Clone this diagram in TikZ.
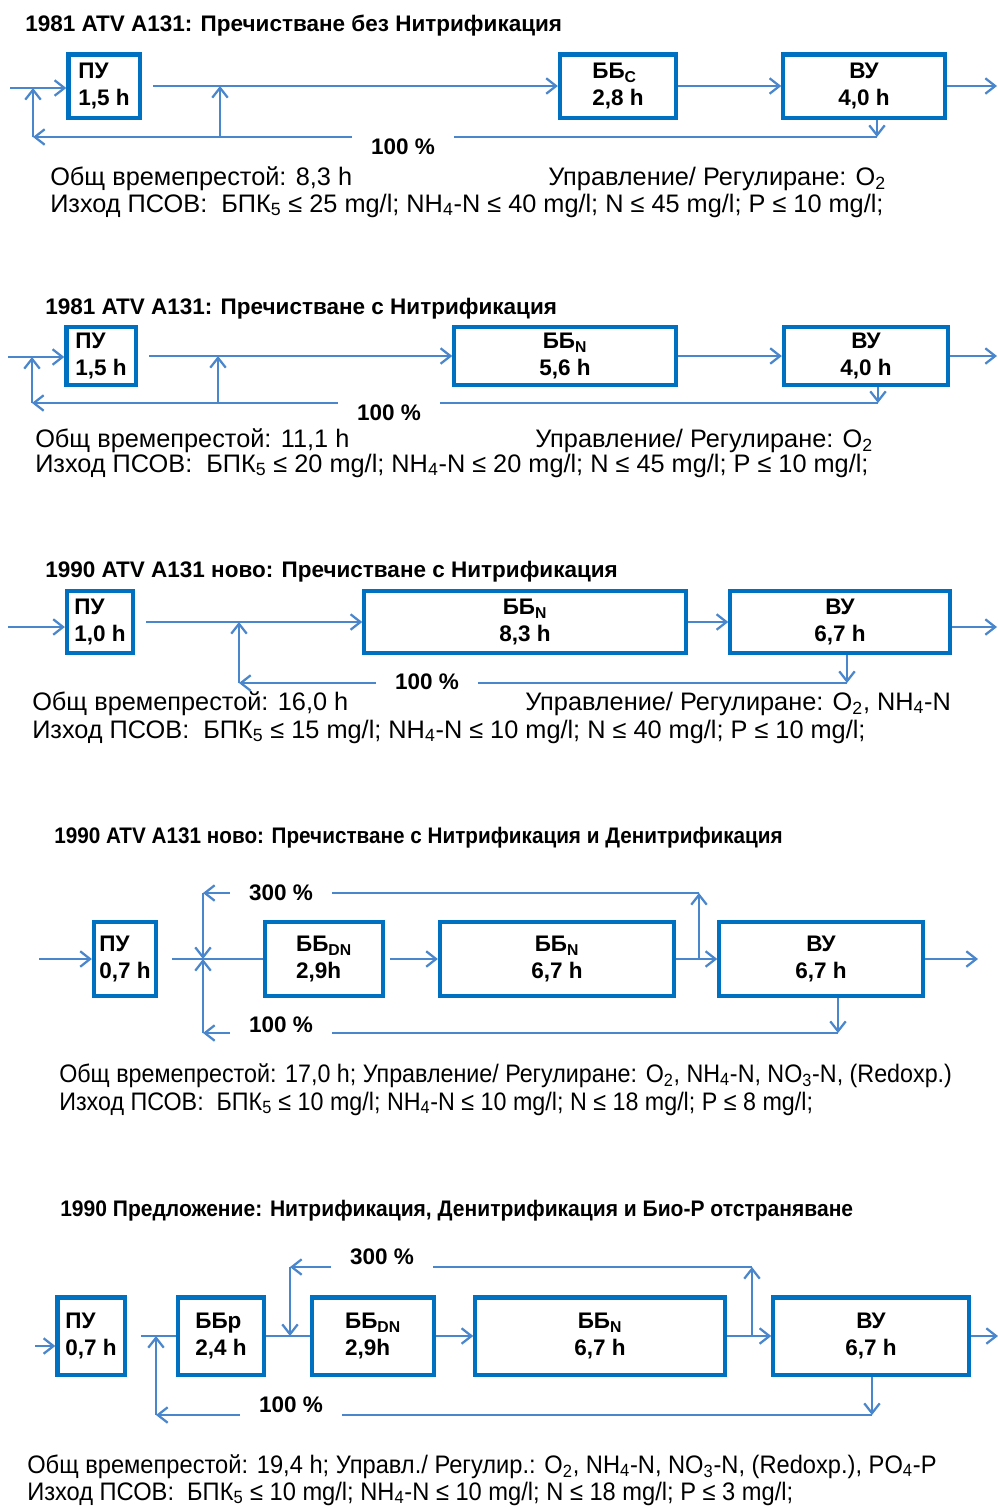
\documentclass[tikz,border=0pt]{standalone}
\usepackage{fontspec}
\setmainfont{Liberation Sans}
\newfontfamily\narrowfont[FakeStretch=0.92]{Liberation Sans}
\newfontfamily\semifont[FakeStretch=0.935]{Liberation Sans}
\usetikzlibrary{arrows.meta}
\definecolor{boxblue}{RGB}{0,112,192}
\definecolor{flowblue}{RGB}{74,134,204}

\begin{document}
\begin{tikzpicture}[x=0.025cm, y=-0.025cm, >={Straight Barb[length=7pt,width=11pt]},
    unit/.style={draw=boxblue, line width=3pt, fill=white, inner sep=2pt, font=\fontsize{16}{19}\selectfont\bfseries, align=left},
    flow/.style={draw=flowblue, line width=1.6pt, ->},
    link/.style={draw=flowblue, line width=1.6pt},
    pct/.style={fill=white, inner sep=0pt, minimum width=2.55cm, minimum height=0.85cm, font=\fontsize{16}{19}\selectfont\bfseries},
    heading/.style={anchor=base west, inner sep=0pt, font=\fontsize{16}{19}\selectfont\bfseries},
    info/.style={anchor=base west, inner sep=0pt, font=\fontsize{18}{21}\selectfont}]
    \useasboundingbox (0,0) rectangle (998,1508);

    \node[heading] (t1) at (25,31) {1981 ATV A131: Пречистване без Нитрификация};
    \node[unit, minimum width=1.78cm, minimum height=1.58cm] (pu1) at (104,86) {ПУ\\1,5 h};
    \node[unit, minimum width=2.9cm, minimum height=1.58cm] (bbc1) at (618,86) {ББ\textsubscript{C}\\2,8 h};
    \node[unit, minimum width=4.03cm, minimum height=1.58cm, align=center] (vu1) at (864,86) {ВУ\\4,0 h};
    \coordinate (in1) at (10,88);
    \coordinate (out1) at (997,86);
    \coordinate (j1) at (220,137);
    \coordinate (r1) at (877,137);
    \coordinate (l1) at (33,137);
    \draw[flow] (in1) -- (in1 -| pu1.west);
    \draw[flow, shorten <=8pt] (pu1.east) -- (bbc1.west);
    \draw[flow] (bbc1.east) -- (vu1.west);
    \draw[flow] (vu1.east) -- (out1);
    \draw[flow] (r1 |- vu1.south) -- (r1);
    \draw[flow] (r1) -- (l1);
    \draw[flow] (l1) -- (l1 |- in1);
    \draw[flow] (j1) -- (j1 |- pu1.east);
    \node[pct] (p1) at (403,147) {100 \%};
    \node[info] (o1) at (50,185) {Общ времепрестой: 8,3 h};
    \node[info] (u1) at (548,185) {Управление/ Регулиране: O\textsubscript{2}};
    \node[info] (i1) at (50,212) {Изход ПСОВ:\ \ БПК\textsubscript{5} ≤ 25 mg/l; NH\textsubscript{4}-N ≤ 40 mg/l; N ≤ 45 mg/l; P ≤ 10 mg/l;};

    \node[heading] (t2) at (45,314) {1981 ATV A131: Пречистване с Нитрификация};
    \node[unit, minimum width=1.73cm, minimum height=1.45cm] (pu2) at (101,356) {ПУ\\1,5 h};
    \node[unit, minimum width=5.53cm, minimum height=1.45cm, align=center] (bbn2) at (565,356) {ББ\textsubscript{N}\\5,6 h};
    \node[unit, minimum width=4.1cm, minimum height=1.45cm, align=center] (vu2) at (866,356) {ВУ\\4,0 h};
    \coordinate (in2) at (8,357);
    \coordinate (out2) at (997,356);
    \coordinate (j2) at (218,403);
    \coordinate (r2) at (878,403);
    \coordinate (l2) at (32,403);
    \draw[flow] (in2) -- (in2 -| pu2.west);
    \draw[flow, shorten <=8pt] (pu2.east) -- (bbn2.west);
    \draw[flow] (bbn2.east) -- (vu2.west);
    \draw[flow] (vu2.east) -- (out2);
    \draw[flow] (r2 |- vu2.south) -- (r2);
    \draw[flow] (r2) -- (l2);
    \draw[flow] (l2) -- (l2 |- in2);
    \draw[flow] (j2) -- (j2 |- pu2.east);
    \node[pct] (p2) at (389,413) {100 \%};
    \node[info] (o2) at (35,447) {Общ времепрестой: 11,1 h};
    \node[info] (u2) at (535,447) {Управление/ Регулиране: O\textsubscript{2}};
    \node[info] (i2) at (35,472) {Изход ПСОВ:\ \ БПК\textsubscript{5} ≤ 20 mg/l; NH\textsubscript{4}-N ≤ 20 mg/l; N ≤ 45 mg/l; P ≤ 10 mg/l;};

    \node[heading] (t3) at (45,577) {1990 ATV A131 ново: Пречистване с Нитрификация};
    \node[unit, minimum width=1.65cm, minimum height=1.55cm] (pu3) at (100,622) {ПУ\\1,0 h};
    \node[unit, minimum width=8.03cm, minimum height=1.55cm, align=center] (bbn3) at (525,622) {ББ\textsubscript{N}\\8,3 h};
    \node[unit, minimum width=5.48cm, minimum height=1.55cm, align=center] (vu3) at (840,622) {ВУ\\6,7 h};
    \coordinate (in3) at (8,627);
    \coordinate (out3) at (997,627);
    \coordinate (r3) at (847,683);
    \coordinate (l3) at (239,683);
    \draw[flow] (in3) -- (in3 -| pu3.west);
    \draw[flow, shorten <=8pt] (pu3.east) -- (bbn3.west);
    \draw[flow] (bbn3.east) -- (vu3.west);
    \draw[flow] (vu3.east |- out3) -- (out3);
    \draw[flow] (r3 |- vu3.south) -- (r3);
    \draw[flow] (r3) -- (l3);
    \draw[flow] (l3) -- (l3 |- pu3.east);
    \node[pct] (p3) at (427,682) {100 \%};
    \node[info] (o3) at (32,710) {Общ времепрестой: 16,0 h};
    \node[info] (u3) at (525,710) {Управление/ Регулиране: O\textsubscript{2}, NH\textsubscript{4}-N};
    \node[info] (i3) at (32,738) {Изход ПСОВ:\ \ БПК\textsubscript{5} ≤ 15 mg/l; NH\textsubscript{4}-N ≤ 10 mg/l; N ≤ 40 mg/l; P ≤ 10 mg/l;};

    \node[heading, font=\fontsize{16}{19}\selectfont\narrowfont\bfseries] (t4) at (54,843) {1990 ATV A131 ново: Пречистване с Нитрификация и Денитрификация};
    \node[unit, minimum width=1.55cm, minimum height=1.85cm] (pu4) at (125,959) {ПУ\\0,7 h};
    \node[unit, minimum width=2.93cm, minimum height=1.85cm] (dn4) at (324,959) {ББ\textsubscript{DN}\\2,9h};
    \node[unit, minimum width=5.85cm, minimum height=1.85cm, align=center] (bbn4) at (557,959) {ББ\textsubscript{N}\\6,7 h};
    \node[unit, minimum width=5.08cm, minimum height=1.85cm, align=center] (vu4) at (821,959) {ВУ\\6,7 h};
    \coordinate (in4) at (39,959);
    \coordinate (out4) at (978,959);
    \coordinate (up4) at (699,893);
    \coordinate (tc4) at (203,893);
    \coordinate (r4) at (838,1033);
    \coordinate (bc4) at (203,1033);
    \draw[flow] (in4) -- (pu4.west);
    \draw[link, shorten <=10pt] (pu4.east) -- (dn4.west);
    \draw[flow, shorten <=4pt] (dn4.east) -- (bbn4.west);
    \draw[flow] (bbn4.east) -- (vu4.west);
    \draw[flow] (vu4.east) -- (out4);
    \draw[flow] (up4 |- bbn4.east) -- (up4);
    \draw[flow] (up4) -- (tc4);
    \draw[flow] (tc4) -- (tc4 |- pu4.east);
    \draw[flow] (r4 |- vu4.south) -- (r4);
    \draw[flow] (r4) -- (bc4);
    \draw[flow] (bc4) -- (bc4 |- pu4.east);
    \node[pct] (q4) at (281,893) {300 \%};
    \node[pct] (p4) at (281,1025) {100 \%};
    \node[info, font=\fontsize{18}{21}\selectfont\narrowfont] (o4) at (59,1082) {Общ времепрестой: 17,0 h; Управление/ Регулиране: O\textsubscript{2}, NH\textsubscript{4}-N, NO\textsubscript{3}-N, (Redoxp.)};
    \node[info, font=\fontsize{18}{21}\selectfont\narrowfont] (i4) at (59,1110) {Изход ПСОВ:\ \ БПК\textsubscript{5} ≤ 10 mg/l; NH\textsubscript{4}-N ≤ 10 mg/l; N ≤ 18 mg/l; P ≤ 8 mg/l;};

    \node[heading, font=\fontsize{16}{19}\selectfont\semifont\bfseries] (t5) at (60,1216) {1990 Предложение: Нитрификация, Денитрификация и Био-Р отстраняване};
    \node[unit, minimum width=1.68cm, minimum height=1.93cm] (pu5) at (91,1336) {ПУ\\0,7 h};
    \node[unit, minimum width=2.15cm, minimum height=1.93cm] (bp5) at (221,1336) {ББр\\2,4 h};
    \node[unit, minimum width=3.05cm, minimum height=1.93cm] (dn5) at (373,1336) {ББ\textsubscript{DN}\\2,9h};
    \node[unit, minimum width=6.23cm, minimum height=1.93cm, align=center] (bbn5) at (600,1336) {ББ\textsubscript{N}\\6,7 h};
    \node[unit, minimum width=4.88cm, minimum height=1.93cm, align=center] (vu5) at (871,1336) {ВУ\\6,7 h};
    \coordinate (in5) at (35,1346);
    \coordinate (out5) at (998,1336);
    \coordinate (up5) at (752,1267);
    \coordinate (tc5) at (290,1267);
    \coordinate (r5) at (872,1415);
    \coordinate (bc5) at (156,1415);
    \draw[flow] (in5) -- (in5 -| pu5.west);
    \draw[link, shorten <=10pt] (pu5.east) -- (bp5.west);
    \draw[link] (bp5.east) -- (dn5.west);
    \draw[flow] (dn5.east) -- (bbn5.west);
    \draw[flow] (bbn5.east) -- (vu5.west);
    \draw[flow] (vu5.east) -- (out5);
    \draw[flow] (up5 |- bbn5.east) -- (up5);
    \draw[flow] (up5) -- (tc5);
    \draw[flow] (tc5) -- (tc5 |- bp5.east);
    \draw[flow] (r5 |- vu5.south) -- (r5);
    \draw[flow] (r5) -- (bc5);
    \draw[flow] (bc5) -- (bc5 |- pu5.east);
    \node[pct] (q5) at (382,1257) {300 \%};
    \node[pct] (p5) at (291,1405) {100 \%};
    \node[info, font=\fontsize{18}{21}\selectfont\semifont] (o5) at (27,1473) {Общ времепрестой: 19,4 h; Управл./ Регулир.: O\textsubscript{2}, NH\textsubscript{4}-N, NO\textsubscript{3}-N, (Redoxp.), PO\textsubscript{4}-P};
    \node[info, font=\fontsize{18}{21}\selectfont\semifont] (i5) at (27,1500) {Изход ПСОВ:\ \ БПК\textsubscript{5} ≤ 10 mg/l; NH\textsubscript{4}-N ≤ 10 mg/l; N ≤ 18 mg/l; P ≤ 3 mg/l;};
\end{tikzpicture}
\end{document}
